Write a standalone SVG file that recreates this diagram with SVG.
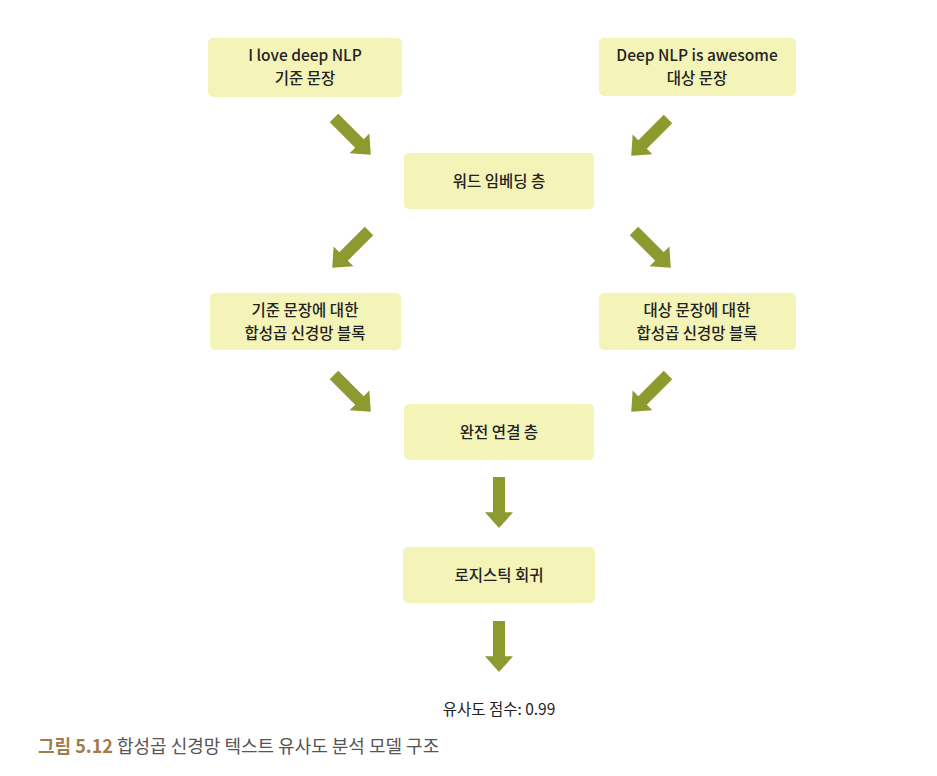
<svg xmlns="http://www.w3.org/2000/svg" width="937" height="776" viewBox="0 0 937 776">
<style>
.box{fill:#f4f3b8;}
.t{font-family:"Noto Sans CJK KR","Noto Sans",sans-serif;font-size:15.5px;fill:#222;text-anchor:middle;font-weight:500;}
.arr{fill:#8c9a2f;}
.cap{font-family:"Noto Sans CJK KR","Noto Sans",sans-serif;font-size:18px;fill:#555;}
.capn{fill:#a07c4c;font-weight:700;}
.res{font-family:"Noto Sans CJK KR","Noto Sans",sans-serif;font-size:15.5px;fill:#222;text-anchor:middle;}
</style>
<defs>
<path id="a" d="M-6,0 H6 V36 H14 L0,52 L-14,36 H-6 Z"/>
</defs>
<rect width="937" height="776" fill="#fff"/>
<g id="n1"><rect class="box" x="208" y="38" width="194" height="59" rx="5"/><text class="t" x="305" y="61">I love deep NLP</text><text class="t" x="305" y="84">기준 문장</text></g>
<g id="n2"><rect class="box" x="599" y="38" width="197" height="58" rx="5"/><text class="t" x="697" y="61">Deep NLP is awesome</text><text class="t" x="697" y="84">대상 문장</text></g>
<g id="n3"><rect class="box" x="404" y="153" width="190" height="56" rx="5"/><text class="t" x="499" y="187">워드 임베딩 층</text></g>
<g id="n4"><rect class="box" x="210" y="293" width="191" height="57" rx="5"/><text class="t" x="305" y="316">기준 문장에 대한</text><text class="t" x="305" y="339">합성곱 신경망 블록</text></g>
<g id="n5"><rect class="box" x="599" y="293" width="197" height="57" rx="5"/><text class="t" x="697" y="316">대상 문장에 대한</text><text class="t" x="697" y="339">합성곱 신경망 블록</text></g>
<g id="n6"><rect class="box" x="404" y="404" width="190" height="56" rx="5"/><text class="t" x="499" y="438">완전 연결 층</text></g>
<g id="n7"><rect class="box" x="403" y="547" width="192" height="56" rx="5"/><text class="t" x="499" y="581">로지스틱 회귀</text></g>
<g id="connectors" class="arr">
<use href="#a" transform="translate(334,118) rotate(-45)"/>
<use href="#a" transform="translate(668,119) rotate(45)"/>
<use href="#a" transform="translate(369,231) rotate(45)"/>
<use href="#a" transform="translate(634,231) rotate(-45)"/>
<use href="#a" transform="translate(334,375) rotate(-45)"/>
<use href="#a" transform="translate(668,375) rotate(45)"/>
<use href="#a" transform="translate(499,477) scale(1,0.98)"/>
<use href="#a" transform="translate(499,621) scale(1,0.98)"/>
</g>
<text class="res" x="499" y="715">유사도 점수: 0.99</text>
<text class="cap" x="38" y="753"><tspan class="capn">그림 5.12</tspan> 합성곱 신경망 텍스트 유사도 분석 모델 구조</text>
</svg>
